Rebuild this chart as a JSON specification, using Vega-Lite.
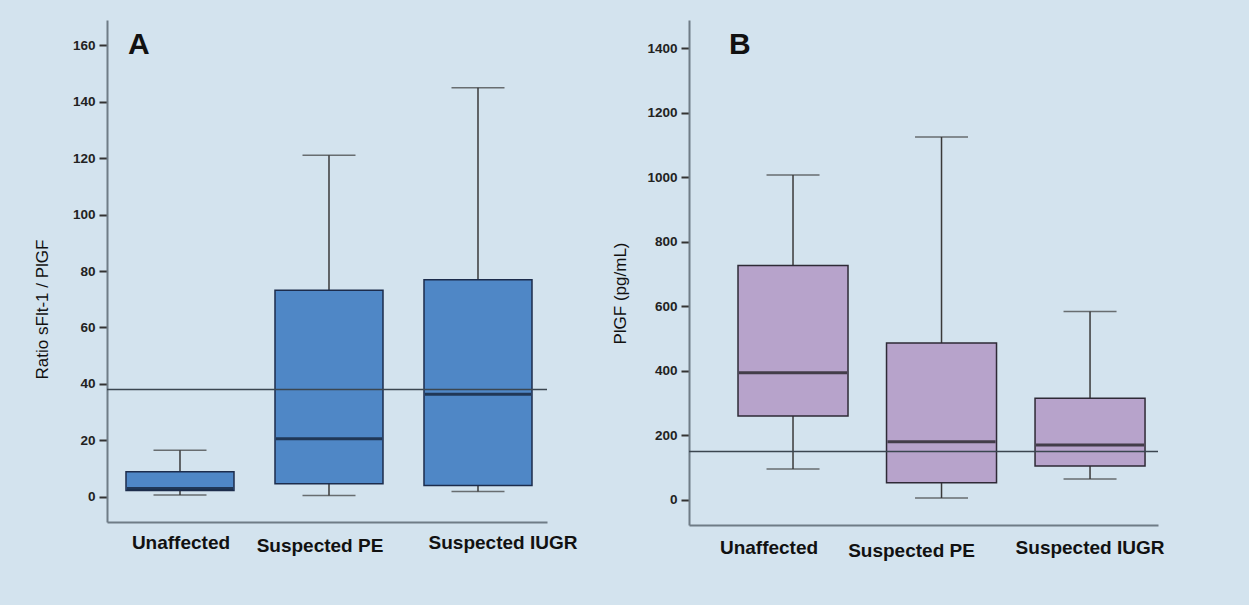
{
  "$schema": "https://vega.github.io/schema/vega-lite/v6.json",
  "background": "#d3e3ee",
  "padding": {"left": 33, "top": 20, "right": 89, "bottom": 47},
  "spacing": 142,
  "bounds": "flush",
  "config": {
    "view": {"stroke": null},
    "axis": {"grid": false, "domainColor": "#6f7c86", "domainWidth": 2},
    "axisY": {"labelFont": "Liberation Sans", "labelFontWeight": "bold", "labelFontSize": 13.5, "labelColor": "#222", "labelPadding": 4, "tickColor": "#333", "tickWidth": 2, "tickSize": 8, "titleFont": "Liberation Sans", "titleFontWeight": "normal", "titleFontSize": 17, "titleColor": "#111"},
    "axisX": {"ticks": false, "labelFont": "Liberation Sans", "labelFontWeight": "bold", "labelFontSize": 19, "labelColor": "#111", "labelAngle": 0, "title": null}
  },
  "datasets": {
    "sflt": [
      {"group": "Unaffected", "min": 0.6, "q1": 2.2, "median": 2.9, "q3": 8.8, "max": 16.4},
      {"group": "Suspected PE", "min": 0.4, "q1": 4.6, "median": 20.5, "q3": 73.2, "max": 121},
      {"group": "Suspected IUGR", "min": 1.8, "q1": 3.9, "median": 36.3, "q3": 76.9, "max": 145}
    ],
    "sflt_ref": [{"cutoff": 38}],
    "plgf": [
      {"group": "Unaffected", "min": 96, "q1": 260, "median": 394, "q3": 727, "max": 1007},
      {"group": "Suspected PE", "min": 6, "q1": 53, "median": 180, "q3": 486, "max": 1125},
      {"group": "Suspected IUGR", "min": 65, "q1": 105, "median": 170, "q3": 315, "max": 584}
    ],
    "plgf_ref": [{"cutoff": 150}]
  },
  "hconcat": [
    {
      "width": 440,
      "height": 502,
      "title": {"text": "A", "anchor": "start", "frame": "group", "offset": -40, "dx": 21, "fontSize": 30, "fontWeight": "bold", "font": "Liberation Sans", "color": "#111"},
      "layer": [
        {
          "data": {"name": "sflt"},
          "mark": {"type": "rule", "color": "#3a3a3a", "strokeWidth": 1.5},
          "encoding": {
            "x": {"field": "group", "type": "nominal", "sort": ["Unaffected", "Suspected PE", "Suspected IUGR"],
              "scale": {"paddingInner": 0.3, "paddingOuter": 0.1265, "align": 0.553},
              "axis": {"labelPadding": {"condition": {"test": "datum.value === 'Suspected PE'", "value": 14}, "value": 11},
                       "labelOffset": {"condition": [{"test": "datum.value === 'Suspected PE'", "value": -9}, {"test": "datum.value === 'Suspected IUGR'", "value": 25}], "value": 1}}},
            "y": {"field": "min", "type": "quantitative", "scale": {"domain": [-9, 169], "nice": false, "zero": false},
              "axis": {"values": [0, 20, 40, 60, 80, 100, 120, 140, 160], "format": "d", "title": "Ratio sFlt-1 / PlGF", "titleX": -56, "titleY": 289}},
            "y2": {"field": "max"}
          }
        },
        {
          "data": {"name": "sflt"},
          "mark": {"type": "tick", "color": "#3a3a3a", "thickness": 1.5, "size": 53},
          "encoding": {"x": {"field": "group", "type": "nominal", "sort": ["Unaffected", "Suspected PE", "Suspected IUGR"]}, "y": {"field": "max", "type": "quantitative"}}
        },
        {
          "data": {"name": "sflt"},
          "mark": {"type": "tick", "color": "#3a3a3a", "thickness": 1.5, "size": 53},
          "encoding": {"x": {"field": "group", "type": "nominal", "sort": ["Unaffected", "Suspected PE", "Suspected IUGR"]}, "y": {"field": "min", "type": "quantitative"}}
        },
        {
          "data": {"name": "sflt"},
          "mark": {"type": "bar", "width": 108, "fill": "#4f87c6", "stroke": "#1c2c4c", "strokeWidth": 1.5},
          "encoding": {"x": {"field": "group", "type": "nominal", "sort": ["Unaffected", "Suspected PE", "Suspected IUGR"]}, "y": {"field": "q1", "type": "quantitative"}, "y2": {"field": "q3"}}
        },
        {
          "data": {"name": "sflt"},
          "mark": {"type": "tick", "color": "#0d1526", "thickness": 3, "size": 106},
          "encoding": {"x": {"field": "group", "type": "nominal", "sort": ["Unaffected", "Suspected PE", "Suspected IUGR"]}, "y": {"field": "median", "type": "quantitative"}}
        },
        {
          "data": {"name": "sflt_ref"},
          "mark": {"type": "rule", "color": "#3b4650", "strokeWidth": 1.5},
          "encoding": {"y": {"field": "cutoff", "type": "quantitative"}}
        }
      ]
    },
    {
      "width": 469,
      "height": 505,
      "title": {"text": "B", "anchor": "start", "frame": "group", "offset": -40, "dx": 40, "fontSize": 30, "fontWeight": "bold", "font": "Liberation Sans", "color": "#111"},
      "layer": [
        {
          "data": {"name": "plgf"},
          "mark": {"type": "rule", "color": "#3a3a3a", "strokeWidth": 1.5},
          "encoding": {
            "x": {"field": "group", "type": "nominal", "sort": ["Unaffected", "Suspected PE", "Suspected IUGR"],
              "scale": {"paddingInner": 0.3, "paddingOuter": 0.229, "align": 0.765},
              "axis": {"labelPadding": {"condition": {"test": "datum.value === 'Suspected PE'", "value": 16}, "value": 13},
                       "labelOffset": {"condition": [{"test": "datum.value === 'Suspected PE'", "value": -30}, {"test": "datum.value === 'Suspected IUGR'", "value": 0}], "value": -24}}},
            "y": {"field": "min", "type": "quantitative", "scale": {"domain": [-78, 1488], "nice": false, "zero": false},
              "axis": {"values": [0, 200, 400, 600, 800, 1000, 1200, 1400], "format": "d", "title": "PlGF (pg/mL)", "titleX": -60, "titleY": 273}},
            "y2": {"field": "max"}
          }
        },
        {
          "data": {"name": "plgf"},
          "mark": {"type": "tick", "color": "#3a3a3a", "thickness": 1.5, "size": 53},
          "encoding": {"x": {"field": "group", "type": "nominal", "sort": ["Unaffected", "Suspected PE", "Suspected IUGR"]}, "y": {"field": "max", "type": "quantitative"}}
        },
        {
          "data": {"name": "plgf"},
          "mark": {"type": "tick", "color": "#3a3a3a", "thickness": 1.5, "size": 53},
          "encoding": {"x": {"field": "group", "type": "nominal", "sort": ["Unaffected", "Suspected PE", "Suspected IUGR"]}, "y": {"field": "min", "type": "quantitative"}}
        },
        {
          "data": {"name": "plgf"},
          "mark": {"type": "bar", "width": 110, "fill": "#b7a3cb", "stroke": "#2e2a36", "strokeWidth": 1.5},
          "encoding": {"x": {"field": "group", "type": "nominal", "sort": ["Unaffected", "Suspected PE", "Suspected IUGR"]}, "y": {"field": "q1", "type": "quantitative"}, "y2": {"field": "q3"}}
        },
        {
          "data": {"name": "plgf"},
          "mark": {"type": "tick", "color": "#111", "thickness": 3, "size": 108},
          "encoding": {"x": {"field": "group", "type": "nominal", "sort": ["Unaffected", "Suspected PE", "Suspected IUGR"]}, "y": {"field": "median", "type": "quantitative"}}
        },
        {
          "data": {"name": "plgf_ref"},
          "mark": {"type": "rule", "color": "#3b4650", "strokeWidth": 1.5},
          "encoding": {"y": {"field": "cutoff", "type": "quantitative"}}
        }
      ]
    }
  ]
}
